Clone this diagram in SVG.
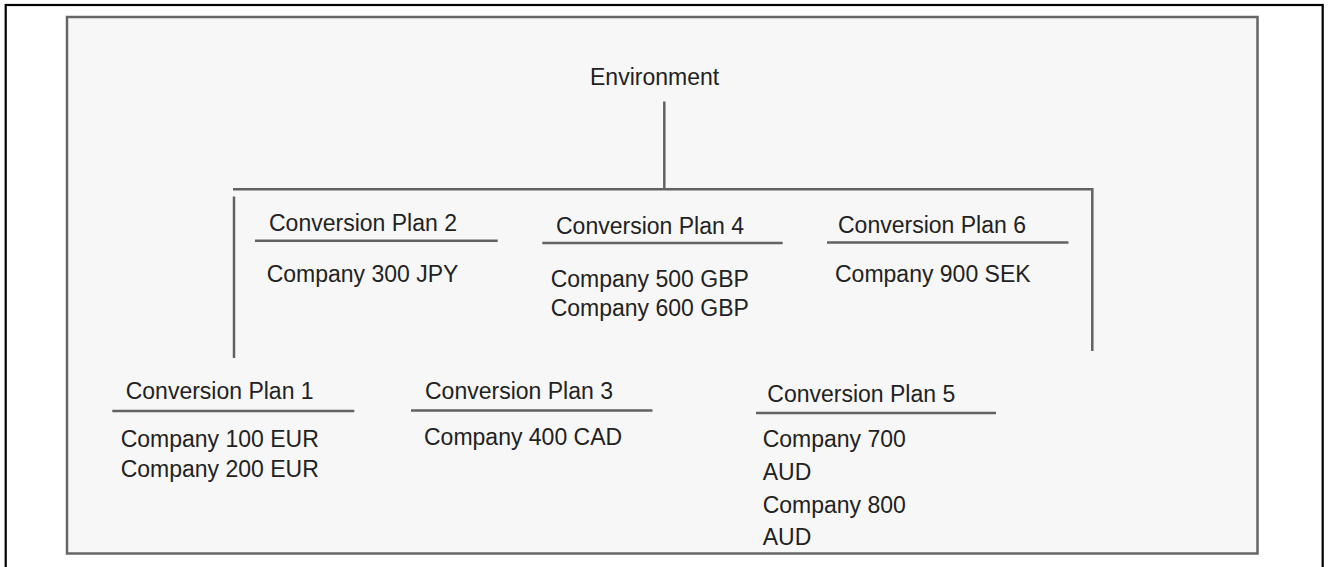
<svg xmlns="http://www.w3.org/2000/svg" width="1328" height="567" viewBox="0 0 1328 567">
  <style>
    text { font-family: "Liberation Sans", Arial, sans-serif; font-size: 23px; fill: #222; }
    .ln { stroke: #626262; stroke-width: 2.5; fill: none; }
  </style>
  <rect x="0" y="0" width="1328" height="567" fill="#ffffff"/>
  <rect x="5.7" y="5" width="1317" height="620" fill="none" stroke="#000" stroke-width="2.2"/>
  <rect x="67" y="17" width="1190.5" height="536.5" fill="#f7f7f7" stroke="#666" stroke-width="2.5"/>

  <g id="connectors">
    <line class="ln" x1="664.3" y1="101.5" x2="664.3" y2="189.3"/>
    <line class="ln" x1="233" y1="189.3" x2="1092.3" y2="189.3"/>
    <line class="ln" x1="1092.3" y1="188" x2="1092.3" y2="351"/>
    <line class="ln" x1="234" y1="196.5" x2="234" y2="358"/>
  </g>

  <g id="environment">
    <text x="590" y="85">Environment</text>
  </g>

  <g id="plan1">
    <text x="125.7" y="399.3">Conversion Plan 1</text>
    <line class="ln" x1="112.3" y1="411" x2="354.3" y2="411"/>
    <text x="120.7" y="447.3">Company 100 EUR</text>
    <text x="120.7" y="476.7">Company 200 EUR</text>
  </g>

  <g id="plan2">
    <text x="269" y="231">Conversion Plan 2</text>
    <line class="ln" x1="255" y1="240.7" x2="497.7" y2="240.7"/>
    <text x="266.7" y="281.7">Company 300 JPY</text>
  </g>

  <g id="plan3">
    <text x="425" y="399.3">Conversion Plan 3</text>
    <line class="ln" x1="411" y1="410.5" x2="652.5" y2="410.5"/>
    <text x="424" y="444.5">Company 400 CAD</text>
  </g>

  <g id="plan4">
    <text x="556" y="234">Conversion Plan 4</text>
    <line class="ln" x1="542.3" y1="243" x2="782.7" y2="243"/>
    <text x="550.7" y="286.7">Company 500 GBP</text>
    <text x="550.7" y="316">Company 600 GBP</text>
  </g>

  <g id="plan5">
    <text x="767.3" y="401.7">Conversion Plan 5</text>
    <line class="ln" x1="756" y1="413" x2="996" y2="413"/>
    <text x="762.7" y="447.3">Company 700</text>
    <text x="762.7" y="480">AUD</text>
    <text x="762.7" y="513.3">Company 800</text>
    <text x="762.7" y="545">AUD</text>
  </g>

  <g id="plan6">
    <text x="838" y="233">Conversion Plan 6</text>
    <line class="ln" x1="827" y1="242.5" x2="1068.5" y2="242.5"/>
    <text x="835" y="281.5">Company 900 SEK</text>
  </g>
</svg>
